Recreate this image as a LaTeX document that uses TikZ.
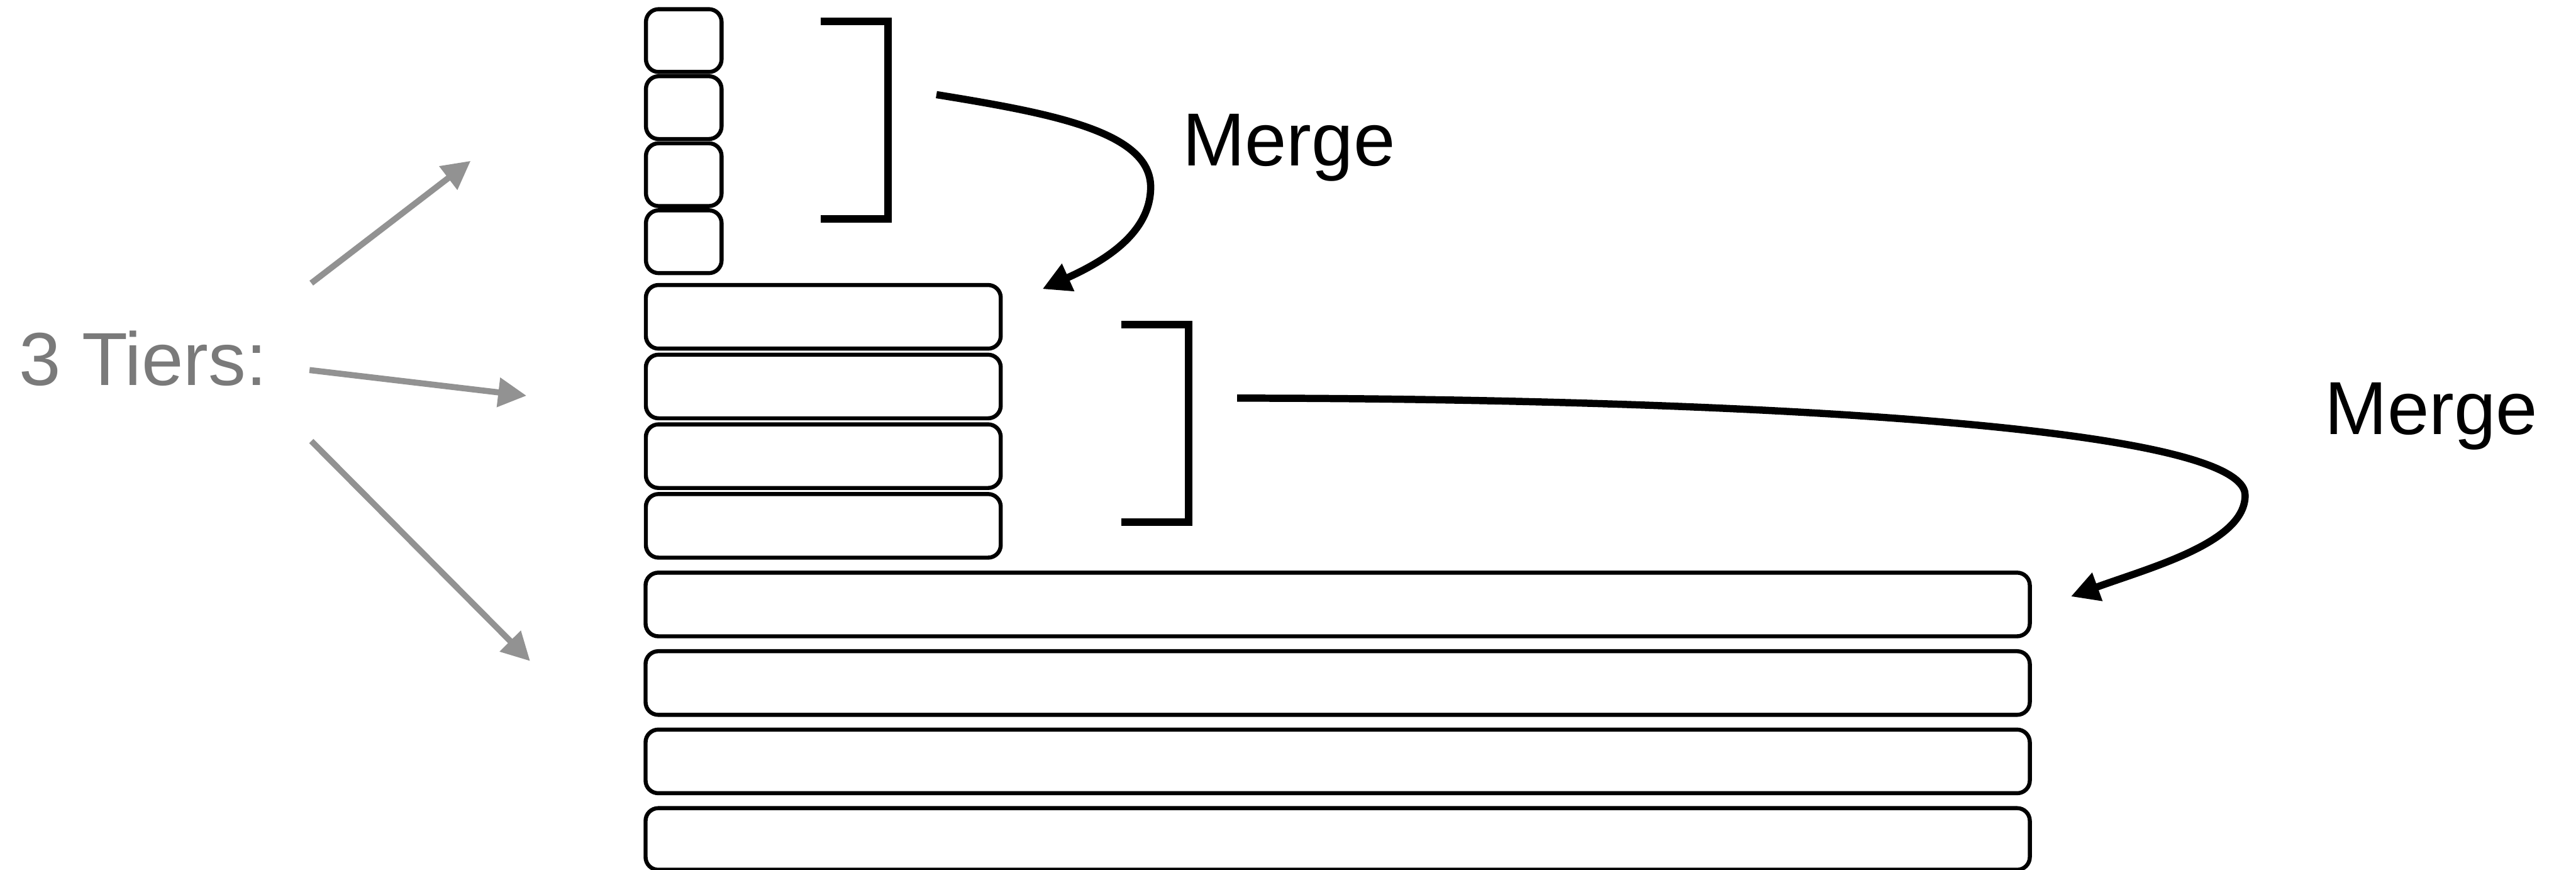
\documentclass[tikz,border=0pt]{standalone}
\usepackage{fontspec}
\setmainfont{Liberation Sans}
\usetikzlibrary{arrows.meta}
\definecolor{tiergray}{HTML}{7A7A7A}
\definecolor{arrowgray}{HTML}{929292}
\begin{document}
\begin{tikzpicture}[x=0.01cm, y=-0.01cm,
  slot/.style={draw, line width=0.7pt, rounded corners=2.2pt, inner sep=0pt,
               minimum height=0.387cm},
  small/.style={slot, minimum width=0.46cm, minimum height=0.382cm},
  middle/.style={slot, minimum width=2.159cm},
  large/.style={slot, minimum width=8.421cm},
  bracket/.style={draw, line width=1.3pt, line join=miter},
  merge/.style={line width=1.25pt, -{Triangle[length=4.9pt,width=4.9pt]}},
  tier/.style={draw=arrowgray, line width=1.05pt, -{Triangle[length=4.9pt,width=4.9pt]}},
  label/.style={inner sep=0pt, anchor=base west, font=\fontsize{13}{15}\selectfont}
]
\useasboundingbox (0,0) rectangle (1568,529.3);

% tier 1: four small runs
\node[small] (s1) at (416.2,24.7)  {};
\node[small] (s2) at (416.2,65.5)  {};
\node[small] (s3) at (416.2,106.3) {};
\node[small] (s4) at (416.2,147.1) {};

% tier 2: four medium runs
\node[middle] (m1) at (501.15,192.8) {};
\node[middle] (m2) at (501.15,235.2) {};
\node[middle] (m3) at (501.15,277.6) {};
\node[middle] (m4) at (501.15,320.0) {};

% tier 3: four large runs
\node[large] (l1) at (814.25,367.85) {};
\node[large] (l2) at (814.25,415.65) {};
\node[large] (l3) at (814.25,463.35) {};
\node[large, minimum height=0.375cm] (l4) at (814.25,510.55) {};

% brackets grouping the runs that get merged
\draw[bracket] (499.4,12.9) -- (540.7,12.9) -- (540.7,133.1) -- (499.4,133.1);
\draw[bracket] (682.4,197.4) -- (723.5,197.4) -- (723.5,317.8) -- (682.4,317.8);

% labels
\node[label, text=tiergray] (tiers) at (11,234.6) {3 Tiers:};
\node[label] (mergeA) at (719,100.8) {Merge};
\node[label] (mergeB) at (1414.5,264.5) {Merge};

% end points of the connectors
\coordinate (ms1) at (570,57.6);
\coordinate (me1) at (634.5,175.9);
\coordinate (ms2) at (753,242.3);
\coordinate (me2) at (1260.5,363);
\coordinate (ts1) at (189.5,172.3);
\coordinate (te1) at (286.5,97.9);
\coordinate (ts2) at (188.4,225.2);
\coordinate (te2) at (320.5,240.8);
\coordinate (ts3) at (189.5,268.4);
\coordinate (te3) at (322.7,402.3);

% merge arrows
\draw[merge] (ms1) .. controls (640,69) and (700.4,80) .. (700.4,113.9)
                   .. controls (700.4,142) and (672,159) .. (me1);
\draw[merge] (ms2) .. controls (1000,242.3) and (1366.6,255) .. (1366.6,301.4)
                   .. controls (1366.6,330) and (1310,345) .. (me2);

% tier pointers
\draw[tier] (ts1) -- (te1);
\draw[tier] (ts2) -- (te2);
\draw[tier] (ts3) -- (te3);
\end{tikzpicture}
\end{document}
